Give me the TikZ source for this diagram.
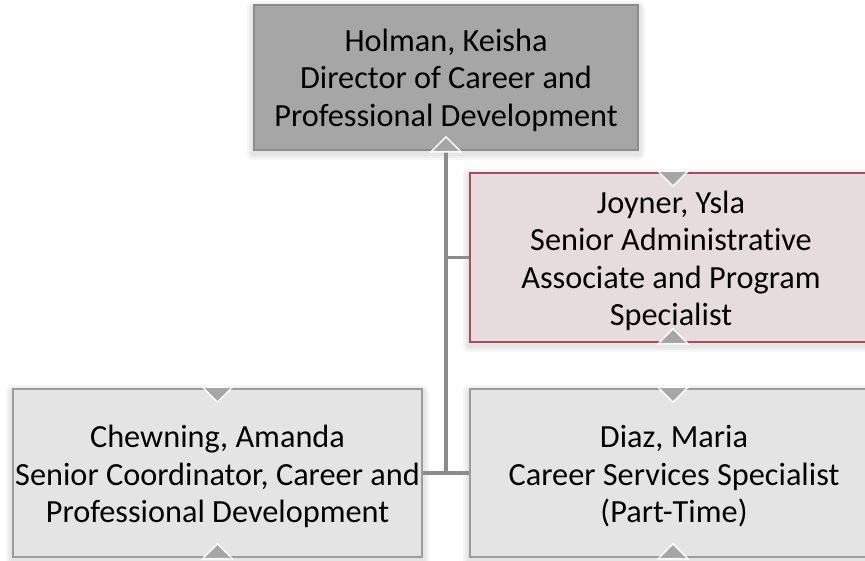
\documentclass[tikz,border=0pt]{standalone}
\usepackage{fontspec}
\setmainfont[Ligatures=NoCommon]{Carlito}
\usetikzlibrary{backgrounds,calc}
\definecolor{topfill}{HTML}{A6A6A6}
\definecolor{topline}{HTML}{8C8C8C}
\definecolor{rosefill}{HTML}{E6DCDC}
\definecolor{roseline}{HTML}{A84B5B}
\definecolor{greyfill}{HTML}{E4E4E4}
\definecolor{greyline}{HTML}{9C9C9C}
\definecolor{connline}{HTML}{8C8C8C}
\definecolor{trifill}{HTML}{A6A6A6}
\tikzset{
  orgbox/.style={draw, line width=1.6pt, inner sep=0pt},
  orgtext/.style={align=center, inner sep=0pt,
    font=\fontsize{32.3}{37.5}\selectfont, text=black},
  connector/.style={draw=connline, line width=3.5pt},
  tri/.style={fill=trifill, draw=white, line width=1.4pt, line join=miter},
}
\newcommand{\uptri}[1]{\path[tri] ($(#1)+(-15,1)$) -- ($(#1)+(0,-14)$) -- ($(#1)+(15,1)$) -- cycle;}
\newcommand{\downtri}[1]{\path[tri] ($(#1)+(-15,-1)$) -- ($(#1)+(0,14)$) -- ($(#1)+(15,-1)$) -- cycle;}
\begin{document}
\begin{tikzpicture}[x=1pt,y=-1pt]
\useasboundingbox (0,0) rectangle (865,560);
% boxes
\node[orgbox, fill=topfill, draw=topline, minimum width=384pt, minimum height=145pt] (holman) at (446,77.5) {};
\node[orgbox, fill=rosefill, draw=roseline, minimum width=406pt, minimum height=169pt] (joyner) at (673,257.5) {};
\node[orgbox, fill=greyfill, draw=greyline, minimum width=409pt, minimum height=168pt] (chewning) at (217.5,473) {};
\node[orgbox, fill=greyfill, draw=greyline, minimum width=406pt, minimum height=168pt] (diaz) at (673,473) {};
% texts
\node[orgtext] (holmantext) at ($(holman.center)+(0,2.5)$)
  {Holman, Keisha\\Director of Career and\\Professional Development};
\node[orgtext] (joynertext) at ($(joyner.center)+(-2,3.5)$)
  {Joyner, Ysla\\Senior Administrative\\Associate and Program\\Specialist};
\node[orgtext] (chewningtext) at ($(chewning.center)+(0,3.5)$)
  {Chewning, Amanda\\Senior Coordinator, Career and\\Professional Development};
\node[orgtext] (diaztext) at ($(diaz.center)+(1,3.5)$)
  {Diaz, Maria\\Career Services Specialist\\(Part-Time)};
% soft shadows
\begin{scope}[on background layer]
\foreach \b in {holman,joyner,chewning,diaz}{
  \foreach \e in {2,4,6}{
    \fill[black, opacity=0.035, rounded corners=\e pt]
      ($(\b.north west)+(-\e,-\e+3)$) rectangle ($(\b.south east)+(\e,\e+3)$);
  }
}
% connectors
\coordinate (junction) at (holman.south |- chewning.east);
\draw[connector] (holman.south) -- (junction);
\draw[connector] (holman.south |- joyner.west) -- (joyner.west);
\draw[connector] (chewning.east) -- (diaz.west);
\end{scope}
% triangle markers
\uptri{holman.south}
\downtri{joyner.north}
\uptri{joyner.south}
\downtri{chewning.north}
\uptri{chewning.south}
\downtri{diaz.north}
\uptri{diaz.south}
\end{tikzpicture}
\end{document}
